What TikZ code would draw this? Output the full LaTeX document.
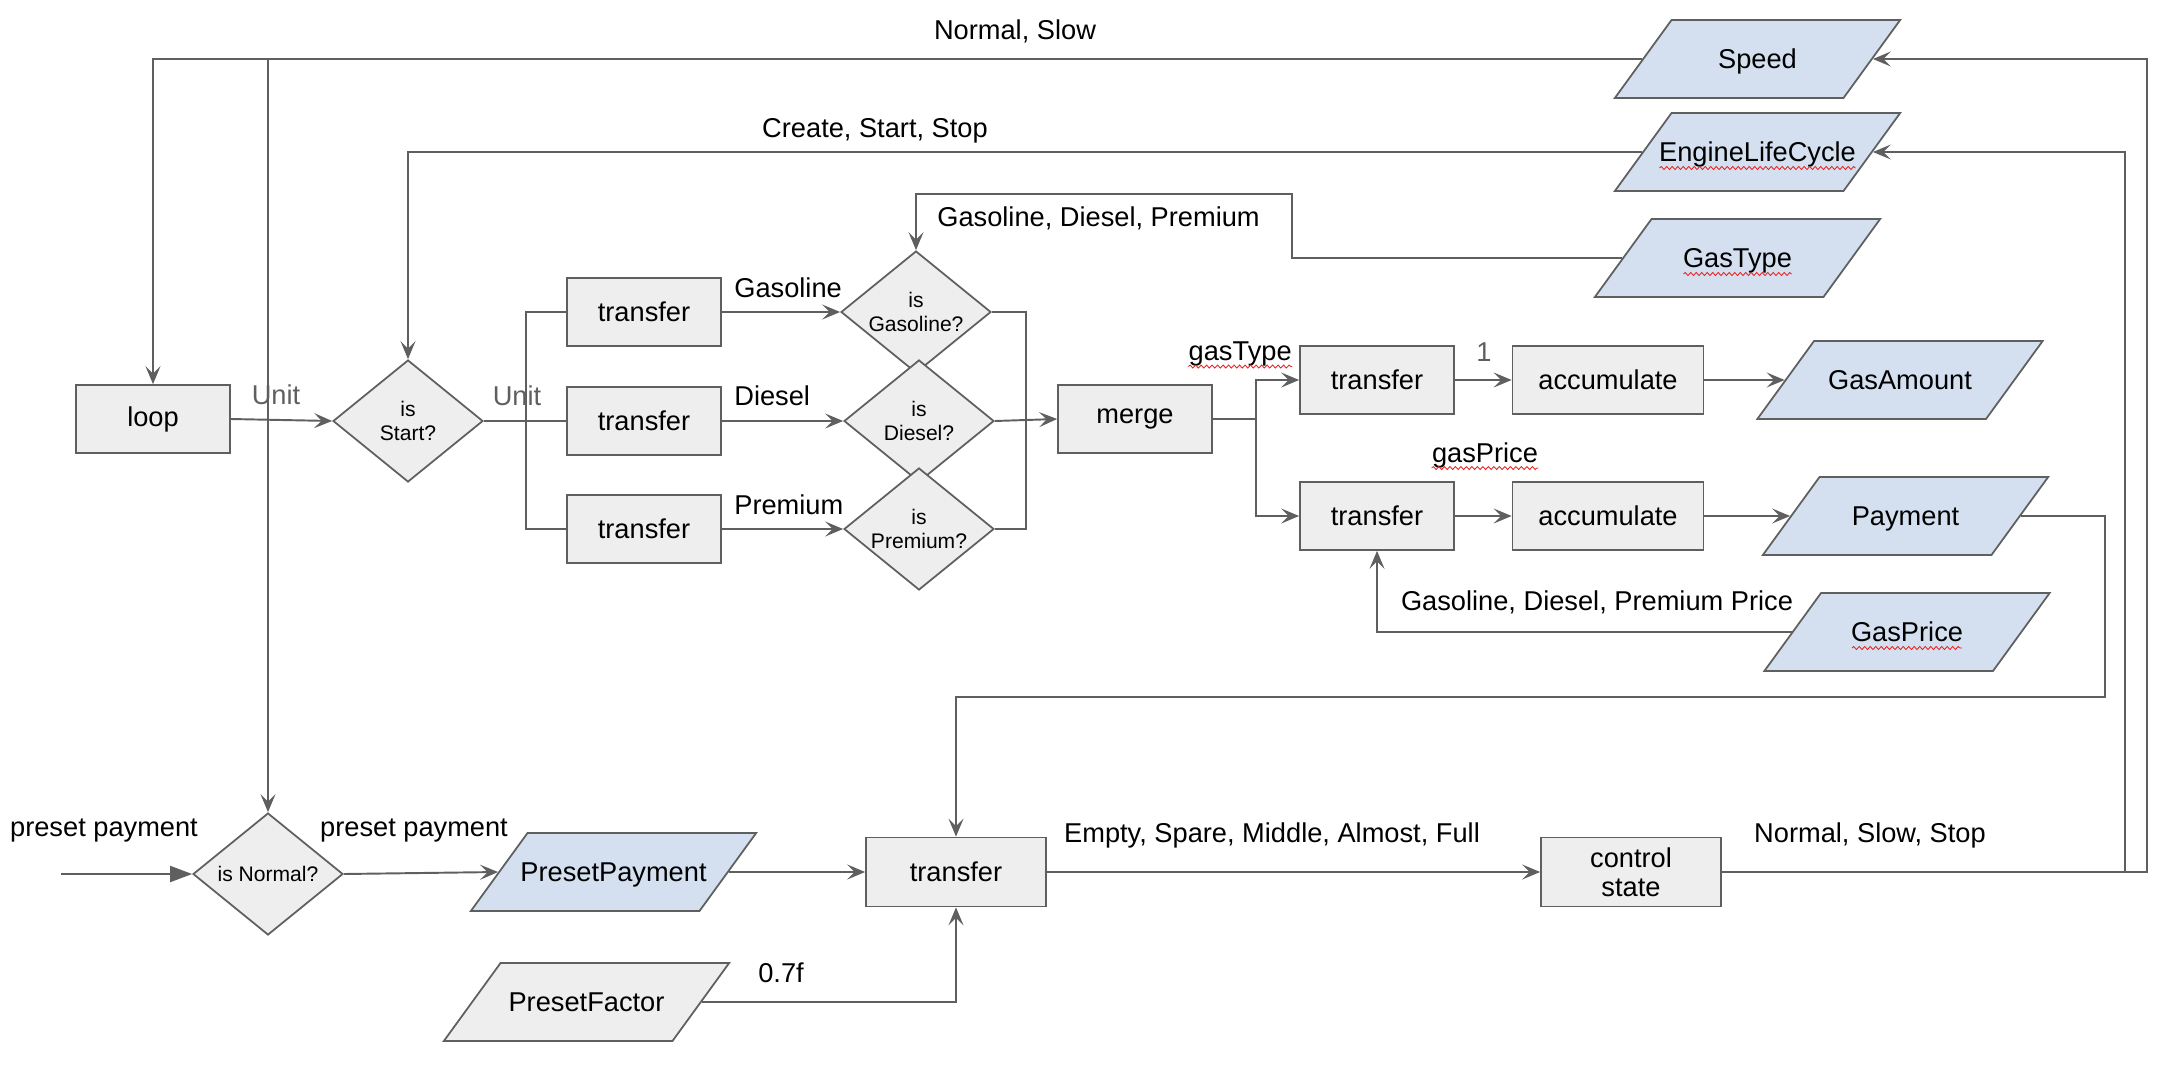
\documentclass[tikz,border=0pt]{standalone}
\usepackage{fontspec}
\setmainfont{Liberation Sans}
\usetikzlibrary{shapes.geometric,arrows.meta,decorations.pathmorphing}

\definecolor{linegray}{RGB}{95,95,95}
\definecolor{boxgray}{RGB}{238,238,238}
\definecolor{iofill}{RGB}{212,224,240}
\definecolor{typored}{RGB}{228,40,40}

\newcommand{\iobody}[1]{\makebox[3.44cm]{#1}}

\tikzset{
  proc/.style={rectangle, draw=linegray, fill=boxgray, line width=1pt, minimum width=3.08cm,
    minimum height=1.36cm, inner sep=0pt, align=center, font=\fontsize{15.5}{16.5}\selectfont},
  decide/.style={diamond, aspect=1.23, draw=linegray, fill=boxgray, line width=1pt, minimum width=3cm,
    minimum height=2.44cm, inner sep=0pt, align=center, font=\fontsize{12}{13.6}\selectfont},
  io/.style={trapezium, trapezium left angle=54, trapezium right angle=126,
    draw=linegray, fill=iofill, line width=1pt, inner sep=0pt, minimum width=1pt, minimum height=1pt,
    text height=0.97cm, text depth=0.59cm, font=\fontsize{15.5}{18}\selectfont},
  lbl/.style={inner sep=0pt, font=\fontsize{15.5}{18}\selectfont},
  dimlbl/.style={lbl, text=linegray},
  wire/.style={draw=linegray, line width=1.1pt},
  flow/.style={wire, -{Stealth[length=0.36cm,width=0.3cm,inset=0.15cm]}},
  inflow/.style={wire, -{Triangle[length=0.44cm,width=0.32cm]}},
  squiggle/.style={draw=typored, line width=0.5pt, decorate,
    decoration={snake, amplitude=0.03cm, segment length=0.11cm}}
}

\begin{document}
\begin{tikzpicture}[x=0.02cm,y=-0.02cm]
  \useasboundingbox (0,0) rectangle (2164,1082);

  % upper part
  \node[proc] (loop) at (153,419) {loop};
  \node[decide] (isstart) at (408,421) {is\\Start?};
  \node[proc] (tra) at (644,312) {transfer};
  \node[proc] (trb) at (644,421) {transfer};
  \node[proc] (trc) at (644,529) {transfer};
  \node[decide] (isgas) at (916,312) {is\\Gasoline?};
  \node[decide] (isdiesel) at (919,421) {is\\Diesel?};
  \node[decide] (isprem) at (919,529) {is\\Premium?};
  \node[proc] (merge) at (1135,419) {merge};
  \node[proc] (trgas) at (1377,380) {transfer};
  \node[proc, minimum width=3.82cm] (accgas) at (1608,380) {accumulate};
  \node[proc] (trprice) at (1377,516) {transfer};
  \node[proc, minimum width=3.82cm] (accprice) at (1608,516) {accumulate};

  \node[io] (speed) at (1757.5,59) {\iobody{Speed}};
  \node[io] (elc) at (1757.5,152) {\iobody{EngineLifeCycle}};
  \node[io] (gastype) at (1737.5,258) {\iobody{GasType}};
  \node[io] (gasamount) at (1900,380) {\iobody{GasAmount}};
  \node[io] (payment) at (1905.5,516) {\iobody{Payment}};
  \node[io] (gasprice) at (1907,632) {\iobody{GasPrice}};

  % lower part
  \node[decide] (isnormal) at (268,874) {is Normal?};
  \node[io] (presetpay) at (613.5,872) {\iobody{PresetPayment}};
  \node[io, fill=boxgray] (presetfactor) at (586.5,1002) {\iobody{PresetFactor}};
  \node[proc, minimum width=3.6cm, minimum height=1.38cm] (trpay) at (956,872) {transfer};
  \node[proc, minimum width=3.6cm, minimum height=1.38cm] (ctrl) at (1631,872) {control\\state};

  \coordinate (pin) at (61,874);
  \coordinate (splitbus) at (526,421);
  \coordinate (mergebus) at (1026,421);
  \coordinate (outbus) at (1256,419);
  \coordinate (gtbend) at (1292,194);
  \coordinate (paybend) at (2105,697);
  \coordinate (ctrlbus) at (2147,872);
  \coordinate (elcbus) at (2125,872);

  % connectors
  \draw[flow] (speed.left side) -| (loop.north);
  \draw[flow] (isnormal.north |- speed.left side) -- (isnormal.north);
  \draw[flow] (elc.left side) -| (isstart.north);
  \draw[flow] (gastype.left side) -| (gtbend) -| (isgas.north);
  \draw[flow] (loop.east) -- (isstart.west);
  \draw[wire] (isstart.east) -- (trb.west);
  \draw[wire] (tra.west) -| (splitbus) |- (trc.west);
  \draw[flow] (tra.east) -- (isgas.west);
  \draw[flow] (trb.east) -- (isdiesel.west);
  \draw[flow] (trc.east) -- (isprem.west);
  \draw[wire] (isgas.east) -| (mergebus) |- (isprem.east);
  \draw[flow] (isdiesel.east) -- (merge.west);
  \draw[wire] (merge.east) -- (outbus);
  \draw[flow] (outbus) |- (trgas.west);
  \draw[flow] (outbus) |- (trprice.west);
  \draw[flow] (trgas.east) -- (accgas.west);
  \draw[flow] (accgas.east) -- (gasamount.left side);
  \draw[flow] (trprice.east) -- (accprice.west);
  \draw[flow] (accprice.east) -- (payment.left side);
  \draw[flow] (gasprice.left side) -| (trprice.south);
  \draw[flow] (payment.right side) -| (paybend) -| (trpay.north);
  \draw[inflow] (pin) -- (isnormal.west);
  \draw[flow] (isnormal.east) -- (presetpay.left side);
  \draw[flow] (presetpay.right side) -- (trpay.west);
  \draw[flow] (presetfactor.right side) -| (trpay.south);
  \draw[flow] (trpay.east) -- (ctrl.west);
  \draw[flow] (ctrl.east) -- (ctrlbus) |- (speed.right side);
  \draw[flow] (elcbus) |- (elc.right side);

  % labels
  \node[lbl] (nslbl) at (1015,31) {Normal, Slow};
  \node[lbl] (csslbl) at (875,131) {Create, Start, Stop};
  \node[lbl, anchor=west] (gdplbl) at (937,218) {Gasoline, Diesel, Premium};
  \node[dimlbl] (unitlbla) at (276,395) {Unit};
  \node[dimlbl] (unitlblb) at (517,396) {Unit};
  \node[lbl, anchor=west] (gaslbl) at (734,288) {Gasoline};
  \node[lbl, anchor=west] (diesellbl) at (734,396) {Diesel};
  \node[lbl, anchor=west] (premlbl) at (734,505) {Premium};
  \node[lbl, anchor=east] (gtlbl) at (1292,354) {gasType};
  \node[dimlbl] (onelbl) at (1484,352) {1};
  \node[lbl] (gplbl) at (1485,455) {gasPrice};
  \node[lbl] (gdpplbl) at (1597,602) {Gasoline, Diesel, Premium Price};
  \node[lbl] (pplbla) at (104,831) {preset payment};
  \node[lbl] (pplblb) at (414,831) {preset payment};
  \node[lbl] (factorlbl) at (781,973) {0.7f};
  \node[lbl] (levellbl) at (1272,835) {Empty, Spare, Middle, Almost, Full};
  \node[lbl] (nsslbl) at (1870,835) {Normal, Slow, Stop};

  % spell-check marks
  \draw[squiggle] ([xshift=-1.96cm,yshift=-0.32cm]elc.center) -- ++(3.92cm,0);
  \draw[squiggle] ([xshift=-1.08cm,yshift=-0.32cm]gastype.center) -- ++(2.16cm,0);
  \draw[squiggle] ([xshift=-1.1cm,yshift=-0.32cm]gasprice.center) -- ++(2.2cm,0);
  \foreach \t in {gtlbl,gplbl}
    \draw[squiggle] ([yshift=-0.12cm]\t.base west) -- ([yshift=-0.12cm]\t.base east);
\end{tikzpicture}
\end{document}
